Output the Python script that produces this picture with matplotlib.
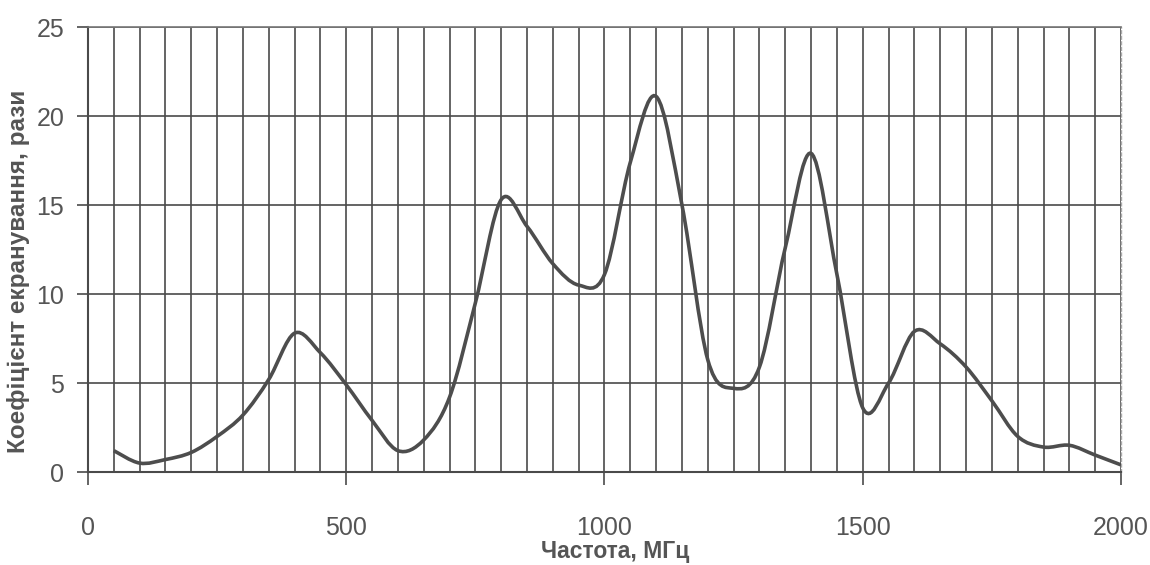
import numpy as np
import matplotlib.pyplot as plt
from matplotlib.path import Path
from matplotlib.patches import PathPatch
from matplotlib.ticker import MultipleLocator

plt.rcParams['font.family'] = ['Liberation Sans', 'DejaVu Sans']

# частота, МГц
freq = [50, 100, 150, 200, 250, 300, 350, 400, 450, 500,
        550, 600, 650, 700, 750, 800, 850, 900, 950, 1000,
        1050, 1100, 1150, 1200, 1250, 1300, 1350, 1400, 1450, 1500,
        1550, 1600, 1650, 1700, 1750, 1800, 1850, 1900, 1950, 2000]
# коефіцієнт екранування, рази
coef = [1.2, 0.5, 0.7, 1.1, 2.0, 3.2, 5.2, 7.8, 6.7, 4.9,
        2.9, 1.2, 1.8, 4.2, 9.5, 15.3, 13.8, 11.7, 10.5, 11.1,
        17.4, 21.1, 15.0, 6.3, 4.7, 5.9, 12.6, 17.9, 11.1, 3.6,
        5.0, 7.9, 7.2, 5.9, 4.0, 2.0, 1.4, 1.5, 0.95, 0.4]

x_ticks = [0, 500, 1000, 1500, 2000]
y_ticks = [0, 5, 10, 15, 20, 25]

grid_col = '#4a4a4a'
text_col = '#555555'


def smooth_path(xs, ys):
    # excel-style smoothed line: cubic bezier through every point
    pts = np.column_stack([xs, ys]).astype(float)
    n = len(pts)
    verts = [pts[0]]
    codes = [Path.MOVETO]
    for i in range(n - 1):
        p0 = pts[i - 1] if i > 0 else pts[i]
        p1 = pts[i]
        p2 = pts[i + 1]
        p3 = pts[i + 2] if i + 2 < n else pts[i + 1]
        c1 = p1 + (p2 - p0) / 6.0
        c2 = p2 - (p3 - p1) / 6.0
        verts += [c1, c2, p2]
        codes += [Path.CURVE4] * 3
    return Path(verts, codes)


fig = plt.figure(figsize=(11.5, 5.65), dpi=100)
ax = fig.add_axes([0.0765, 0.1646, 0.8983, 0.7876])

ax.set_xlim(0, 2000)
ax.set_ylim(0, 25)

ax.xaxis.set_minor_locator(MultipleLocator(50))
ax.set_xticks(x_ticks)
ax.set_yticks(y_ticks)
ax.grid(True, which='minor', axis='x', color=grid_col, lw=1.2)
ax.grid(True, which='major', axis='y', color=grid_col, lw=1.2)
ax.grid(True, which='major', axis='x', color=grid_col, lw=1.2)
ax.set_axisbelow(True)

ax.tick_params(axis='x', which='major', direction='out', length=9, width=1.2,
               color=grid_col, labelsize=18, labelcolor=text_col, pad=23)
ax.tick_params(axis='x', which='minor', length=0)
ax.tick_params(axis='y', direction='out', length=8, width=1.2,
               color=grid_col, labelsize=18, labelcolor=text_col, pad=9)

for s in ['left', 'bottom']:
    ax.spines[s].set_color(grid_col)
    ax.spines[s].set_linewidth(1.5)
ax.spines['top'].set_color('#777777')
ax.spines['top'].set_linewidth(1.2)
ax.spines['right'].set_color('#aaaaaa')
ax.spines['right'].set_linewidth(1.0)
ax.spines['right'].set_linestyle((0, (2, 2)))

ax.add_patch(PathPatch(smooth_path(freq, coef), fill=False,
                       edgecolor='#4d4d4d', lw=2.6, zorder=3))

ax.set_xlabel('Частота, МГц', fontsize=16.5, fontweight='bold', color=text_col)
ax.set_ylabel('Коефіцієнт екранування, рази', fontsize=17.5, fontweight='bold',
              color=text_col)
ax.xaxis.set_label_coords(0.51, -0.152)
ax.yaxis.set_label_coords(-0.056, 0.45)

fig.savefig('out.png', dpi=100)
